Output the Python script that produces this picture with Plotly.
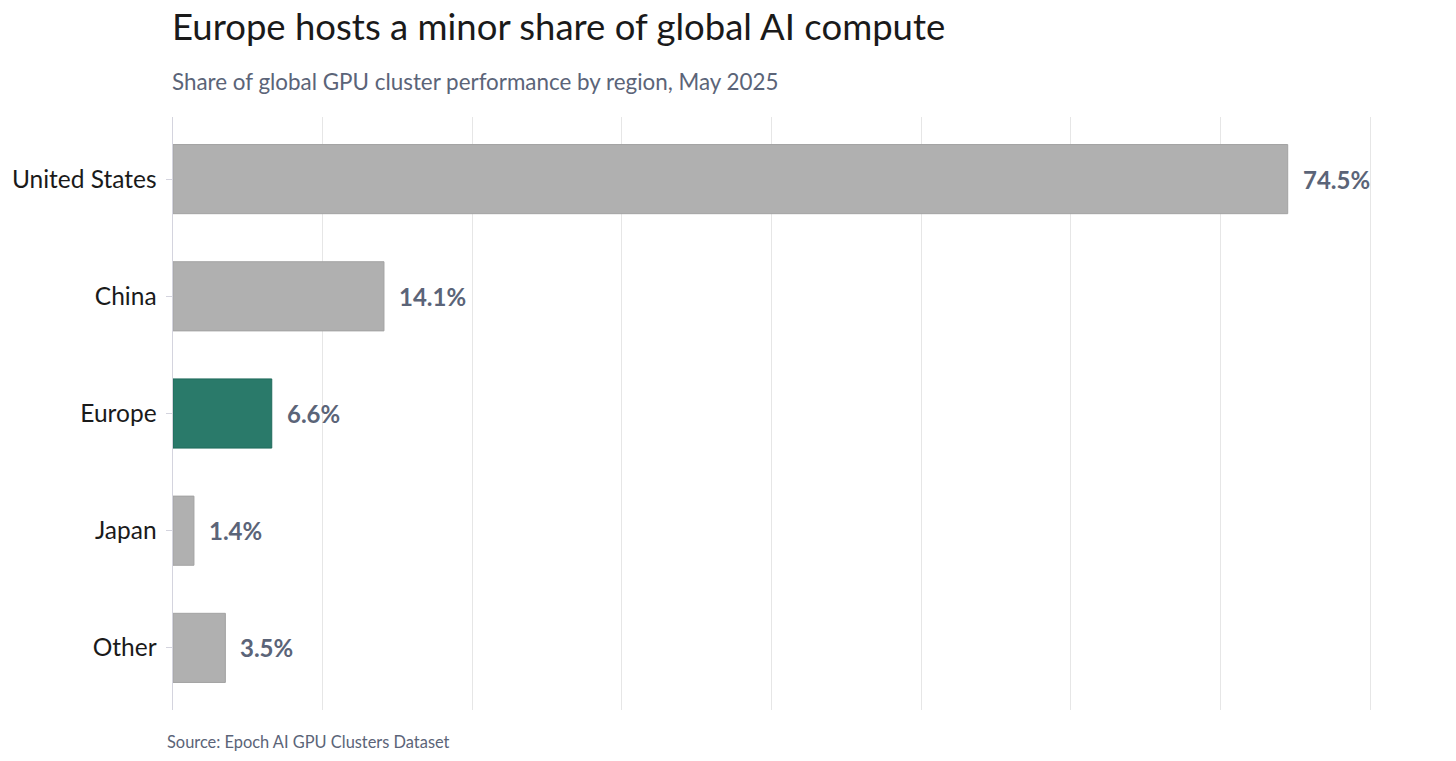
import plotly.graph_objects as go

categories = ["United States", "China", "Europe", "Japan", "Other"]
shares = [74.5, 14.1, 6.6, 1.4, 3.5]
labels = ["74.5%", "14.1%", "6.6%", "1.4%", "3.5%"]
highlight = "Europe"

GRAY = "#b0b0b0"
GRAY_LINE = "#a3a3a3"
GREEN = "#2a7a6a"
GREEN_LINE = "#1f6a5b"
TEXT_GRAY = "#5b6478"

fill = [GREEN if c == highlight else GRAY for c in categories]
line = [GREEN_LINE if c == highlight else GRAY_LINE for c in categories]

fig = go.Figure()
fig.add_trace(go.Bar(
    x=shares, y=categories, orientation="h",
    marker=dict(color=fill, line=dict(color=line, width=1)),
    width=0.59, hoverinfo="skip",
))

for c, v, t in zip(categories, shares, labels):
    fig.add_annotation(
        x=v, y=c, xref="x", yref="y", text=t, showarrow=False,
        xanchor="left", yanchor="middle", xshift=13,
        font=dict(family="Lato", size=24, color=TEXT_GRAY, weight="bold"),
    )

fig.add_annotation(
    x=0, y=1, xref="paper", yref="paper", yshift=91, xshift=-3, xanchor="left", yanchor="middle",
    text="Europe hosts a minor share of global AI compute", showarrow=False,
    font=dict(family="Lato", size=36.5, color="#1a1a1a"),
)
fig.add_annotation(
    x=0, y=1, xref="paper", yref="paper", yshift=36, xshift=-3, xanchor="left", yanchor="middle",
    text="Share of global GPU cluster performance by region, May 2025", showarrow=False,
    font=dict(family="Lato", size=22.4, color=TEXT_GRAY),
)
fig.add_annotation(
    x=0, y=0, xref="paper", yref="paper", yshift=-31, xshift=-8, xanchor="left", yanchor="middle",
    text="Source: Epoch AI GPU Clusters Dataset", showarrow=False,
    font=dict(family="Lato", size=16.4, color=TEXT_GRAY),
)

fig.update_layout(
    width=1456, height=761,
    margin=dict(l=173, r=83, t=117, b=51),
    paper_bgcolor="white", plot_bgcolor="white",
    showlegend=False,
    xaxis=dict(range=[0, 80.2], dtick=10, showticklabels=False, showgrid=True,
               gridcolor="#e6e6e6", gridwidth=1, zeroline=False, showline=False,
               fixedrange=True, automargin=False),
    yaxis=dict(categoryorder="array", categoryarray=categories[::-1],
               range=[-0.53, 4.53], showgrid=False, zeroline=False,
               showline=True, linecolor="#d4d4de", linewidth=1.5,
               ticks="outside", ticklen=6, tickcolor="#d4d4de", tickwidth=1,
               ticklabelstandoff=4, automargin=False, fixedrange=True,
               tickfont=dict(family="Lato", size=24.5, color="#1a1a1a")),
)

fig.write_html(
    "out.html",
    config={"displayModeBar": False, "staticPlot": True},
    post_script="document.body.style.margin='0';document.body.style.overflow='hidden';",
)
